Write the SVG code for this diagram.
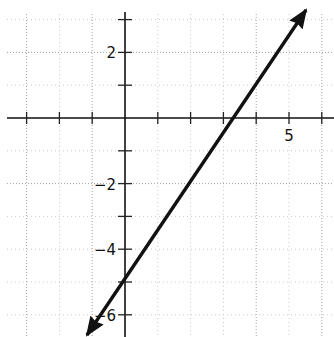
<svg xmlns="http://www.w3.org/2000/svg" width="334" height="337" viewBox="0 0 334 337">
<defs>
<style>
.grid{stroke:#a0a0a0;stroke-width:1;stroke-dasharray:1 2;fill:none}
.gridf{stroke:#cacaca;stroke-width:1;stroke-dasharray:1 3;fill:none}
.axis{stroke:#111;stroke-width:1.6;fill:none}
.tick{stroke:#222;stroke-width:1.3}
.lbl{font-family:"DejaVu Sans","Liberation Sans",sans-serif;font-size:15px;fill:#111}
.line{stroke:#111;stroke-width:3.4;fill:none}
</style>
<marker id="ah" viewBox="0 0 20 16" refX="18" refY="8" markerWidth="20" markerHeight="16" markerUnits="userSpaceOnUse" orient="auto-start-reverse">
<path d="M0,0 L20,8 L0,16 L2,8 Z" fill="#111"/>
</marker>
</defs>
<rect width="334" height="337" fill="#fff"/>
<g id="grid">
<line class="grid" x1="26.6" y1="14" x2="26.6" y2="337"/>
<line class="gridf" x1="59.4" y1="14" x2="59.4" y2="337"/>
<line class="grid" x1="92.2" y1="14" x2="92.2" y2="337"/>
<line class="gridf" x1="157.8" y1="14" x2="157.8" y2="337"/>
<line class="gridf" x1="190.6" y1="14" x2="190.6" y2="337"/>
<line class="gridf" x1="223.4" y1="14" x2="223.4" y2="337"/>
<line class="grid" x1="256.2" y1="14" x2="256.2" y2="337"/>
<line class="gridf" x1="289" y1="14" x2="289" y2="337"/>
<line class="grid" x1="321.8" y1="14" x2="321.8" y2="337"/>
<line class="gridf" x1="7" y1="19.6" x2="334" y2="19.6"/>
<line class="grid" x1="7" y1="52.4" x2="334" y2="52.4"/>
<line class="gridf" x1="7" y1="85.2" x2="334" y2="85.2"/>
<line class="gridf" x1="7" y1="150.8" x2="334" y2="150.8"/>
<line class="grid" x1="7" y1="183.6" x2="334" y2="183.6"/>
<line class="gridf" x1="7" y1="216.4" x2="334" y2="216.4"/>
<line class="gridf" x1="7" y1="249.2" x2="334" y2="249.2"/>
<line class="gridf" x1="7" y1="282" x2="334" y2="282"/>
<line class="gridf" x1="7" y1="314.8" x2="334" y2="314.8"/>
</g>
<g id="axes">
<line class="axis" x1="7" y1="118" x2="334" y2="118"/>
<line class="axis" x1="125" y1="12" x2="125" y2="337"/>
<g class="tick">
<line x1="26.6" y1="112" x2="26.6" y2="124"/>
<line x1="59.4" y1="112" x2="59.4" y2="124"/>
<line x1="92.2" y1="112" x2="92.2" y2="124"/>
<line x1="157.8" y1="112" x2="157.8" y2="124"/>
<line x1="190.6" y1="112" x2="190.6" y2="124"/>
<line x1="223.4" y1="112" x2="223.4" y2="124"/>
<line x1="256.2" y1="112" x2="256.2" y2="124"/>
<line x1="289" y1="112" x2="289" y2="124"/>
<line x1="321.8" y1="112" x2="321.8" y2="124"/>
<line x1="118" y1="19.6" x2="132" y2="19.6"/>
<line x1="118" y1="52.4" x2="132" y2="52.4"/>
<line x1="118" y1="85.2" x2="132" y2="85.2"/>
<line x1="118" y1="150.8" x2="132" y2="150.8"/>
<line x1="118" y1="183.6" x2="132" y2="183.6"/>
<line x1="118" y1="216.4" x2="132" y2="216.4"/>
<line x1="118" y1="249.2" x2="132" y2="249.2"/>
<line x1="118" y1="282" x2="132" y2="282"/>
<line x1="118" y1="314.8" x2="132" y2="314.8"/>
</g>
</g>
<g id="labels">
<text class="lbl" x="116" y="58" text-anchor="end">2</text>
<text class="lbl" x="289" y="141" text-anchor="middle">5</text>
<text class="lbl" x="116" y="190" text-anchor="end">−2</text>
<text class="lbl" x="116" y="255" text-anchor="end">−4</text>
<text class="lbl" x="116" y="321" text-anchor="end">−6</text>
</g>
<g id="connectors">
<line class="line" x1="87" y1="335" x2="306" y2="10" marker-start="url(#ah)" marker-end="url(#ah)"/>
</g>
</svg>
